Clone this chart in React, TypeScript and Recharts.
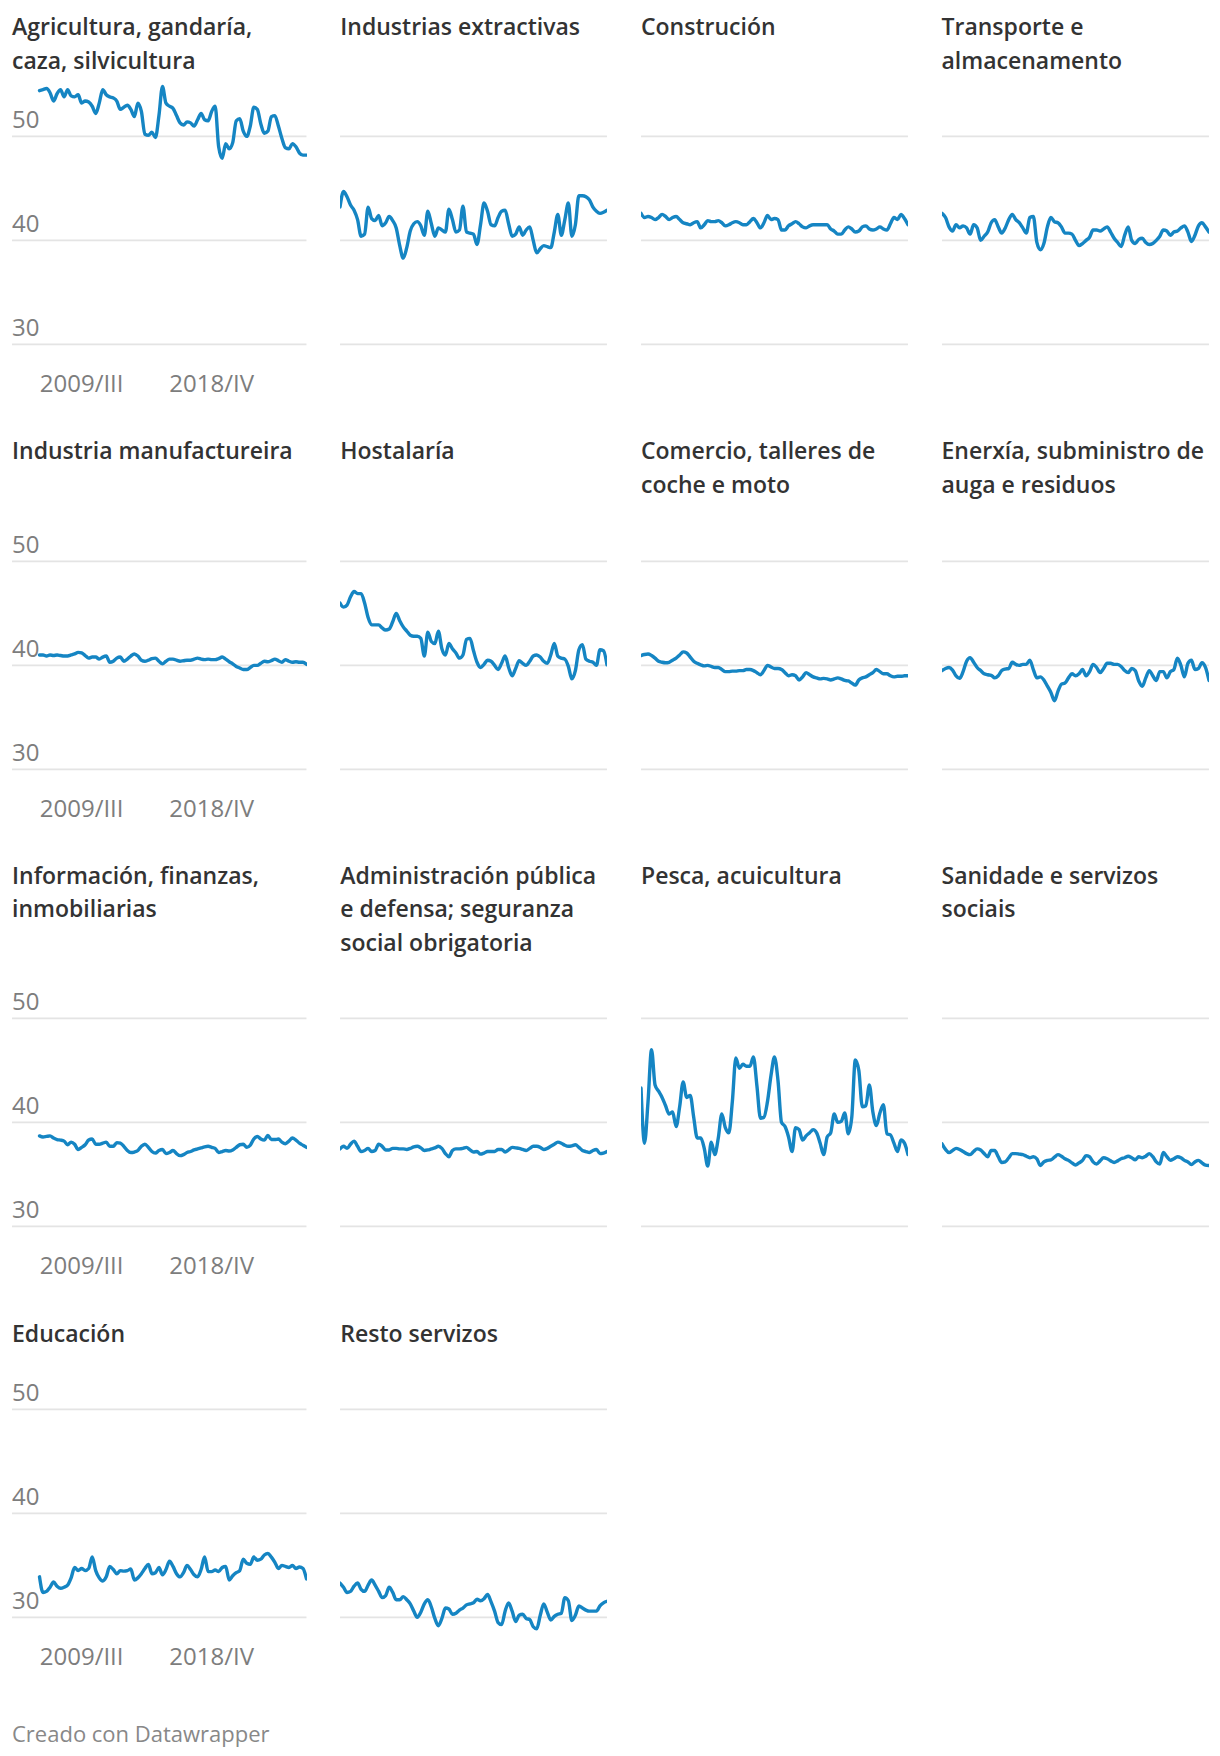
import React from "react";
import { LineChart, Line, XAxis, YAxis, ReferenceLine } from "recharts";

// quarters 2006/III .. 2025/III
const ROMAN = ["I", "II", "III", "IV"];
const quarters: string[] = [];
for (let y = 2006; y <= 2025; y++) {
  for (let q = 0; q < 4; q++) {
    if ((y === 2006 && q < 2) || (y === 2025 && q > 2)) continue;
    quarters.push(`${y}/${ROMAN[q]}`);
  }
}

const X_TICKS = ["2009/III", "2018/IV"];
const Y_TICKS = [30, 40, 50];

const agricultura = [
  54.4, 54.5, 54.6, 54.2, 53.4, 54.1, 54.5, 53.8, 54.5, 53.9,
  53.8, 54.0, 53.2, 53.4, 53.3, 52.9, 52.2, 53.2, 54.5, 54.0,
  53.8, 53.7, 53.4, 52.6, 52.8, 53.0, 52.6, 51.9, 53.2, 52.4,
  50.2, 50.1, 50.4, 49.9, 52.0, 54.8, 53.2, 52.9, 52.7, 52.0,
  51.3, 51.1, 51.4, 51.3, 51.0, 51.6, 52.2, 51.6, 51.5, 52.4,
  52.9, 49.0, 47.9, 49.3, 48.8, 49.4, 51.5, 51.7, 50.5, 50.0,
  51.0, 52.8, 52.6, 51.2, 50.3, 50.5, 51.9, 52.0, 51.0, 49.8,
  48.9, 48.8, 49.3, 49.0, 48.4, 48.2, 48.2,
];
const extractivas = [
  43.2, 44.7, 44.2, 43.4, 42.9, 42.0, 40.4, 40.6, 43.2, 42.1,
  41.9, 42.4, 41.4, 41.7, 42.3, 41.9, 41.2, 39.5, 38.3, 39.3,
  40.9, 41.6, 41.8, 41.4, 40.5, 42.8, 41.6, 40.4, 41.2, 41.0,
  40.8, 43.0, 42.0, 40.8, 41.0, 43.3, 40.8, 40.7, 40.6, 39.6,
  41.5, 43.6, 42.8, 41.5, 41.4, 42.2, 42.8, 42.9, 41.6, 40.4,
  40.6, 41.3, 40.5, 41.0, 41.3, 40.0, 38.8, 39.2, 39.5, 39.4,
  39.3, 40.8, 42.5, 40.5, 42.0, 43.6, 40.4, 41.5, 44.3, 44.3,
  44.2, 43.9, 43.2, 42.8, 42.6, 42.7, 42.9,
];
const construcion = [
  42.6, 42.2, 42.3, 42.2, 42.0, 42.2, 42.5, 42.3, 42.0, 42.2,
  42.3, 42.0, 41.7, 41.6, 41.5, 41.7, 41.8, 41.2, 41.5, 41.9,
  41.8, 41.8, 41.9, 41.7, 41.4, 41.5, 41.7, 41.8, 41.7, 41.5,
  41.5, 41.8, 42.1, 41.7, 41.2, 41.7, 42.4, 42.0, 42.1, 42.0,
  41.0, 41.0, 41.4, 41.6, 41.8, 41.6, 41.3, 41.2, 41.4, 41.5,
  41.5, 41.5, 41.5, 41.5, 41.1, 40.9, 40.6, 40.6, 41.0, 41.3,
  41.1, 40.8, 40.9, 41.3, 41.4, 41.1, 41.0, 41.1, 41.3, 41.1,
  41.0, 41.6, 42.2, 42.0, 42.5, 42.1, 41.5,
];
const transporte = [
  42.6, 42.2, 41.3, 40.9, 41.5, 41.2, 41.4, 41.2, 40.6, 41.5,
  41.2, 40.0, 40.4, 40.8, 41.7, 42.0, 41.3, 40.7, 41.2, 42.0,
  42.5, 42.0, 41.7, 41.2, 40.7, 42.2, 42.3, 39.8, 39.1, 39.7,
  41.3, 42.2, 41.8, 41.7, 41.3, 40.7, 40.7, 40.6, 40.0, 39.5,
  39.7, 40.0, 40.3, 41.0, 41.0, 40.9, 41.1, 41.3, 40.8, 40.2,
  39.8, 39.4, 40.5, 41.3, 40.0, 39.7, 40.1, 40.2, 39.8, 39.6,
  39.7, 40.0, 40.4, 41.0, 40.9, 40.5, 40.8, 40.9, 41.2, 41.4,
  40.8, 39.9, 40.5, 41.4, 41.7, 41.3, 40.8,
];
const manufactureira = [
  41.0, 41.0, 40.9, 41.0, 40.95, 41.0, 40.95, 40.9, 40.9, 41.0,
  41.1, 41.25, 41.2, 40.95, 40.7, 40.8, 40.8, 40.6, 40.8, 40.9,
  40.3, 40.4, 40.7, 40.8, 40.4, 40.6, 40.9, 41.1, 40.9, 40.5,
  40.4, 40.5, 40.65, 40.7, 40.4, 40.15, 40.4, 40.6, 40.6, 40.5,
  40.4, 40.45, 40.5, 40.5, 40.6, 40.7, 40.6, 40.55, 40.6, 40.55,
  40.55, 40.65, 40.8, 40.6, 40.35, 40.15, 39.9, 39.75, 39.6, 39.6,
  39.8, 40.0, 40.0, 40.2, 40.4, 40.35, 40.45, 40.6, 40.45, 40.3,
  40.55, 40.4, 40.3, 40.35, 40.3, 40.3, 40.1,
];
const hostalaria = [
  46.0, 45.6, 45.8, 46.6, 47.1, 46.9, 46.9, 46.0, 44.6, 43.9,
  43.9, 43.9, 43.6, 43.4, 43.5, 44.2, 45.0, 44.3, 43.7, 43.3,
  42.9, 42.8, 42.8, 42.6, 40.9, 43.2, 42.3, 42.1, 43.3, 41.6,
  41.0, 42.1, 41.6, 41.2, 40.7, 41.0, 42.5, 42.6, 41.4, 40.3,
  39.8, 40.1, 40.5, 40.4, 40.0, 39.6, 40.2, 40.9, 39.8, 39.0,
  39.7, 40.45, 40.2, 40.0, 40.4, 40.9, 41.0, 40.8, 40.4, 40.2,
  41.0, 42.1, 40.9, 40.7, 40.6, 39.9, 38.7, 39.5, 41.5, 42.0,
  40.6, 40.4, 40.3, 40.0, 41.5, 41.4, 40.05,
];
const comercio = [
  40.95, 41.05, 41.1, 40.95, 40.7, 40.4, 40.3, 40.25, 40.3, 40.5,
  40.7, 41.0, 41.3, 41.2, 40.8, 40.4, 40.2, 40.05, 39.95, 40.0,
  39.9, 39.8, 39.8, 39.6, 39.4, 39.4, 39.45, 39.45, 39.5, 39.5,
  39.6, 39.6, 39.5, 39.3, 39.1, 39.5, 40.0, 39.85, 39.7, 39.7,
  39.6, 39.3, 39.0, 39.1, 39.0, 38.6, 38.9, 39.3, 39.1, 38.9,
  38.8, 38.7, 38.75, 38.7, 38.6, 38.7, 38.8, 38.7, 38.55, 38.5,
  38.3, 38.1, 38.6, 38.8, 38.9, 39.1, 39.3, 39.6, 39.4, 39.2,
  39.2, 39.0, 38.9, 38.95, 38.95, 39.0, 39.0,
];
const enerxia = [
  39.5, 39.7, 39.8, 39.55, 39.0, 38.75, 39.4, 40.4, 40.75, 40.3,
  39.8, 39.5, 39.2, 39.1, 39.05, 38.8, 39.0, 39.5, 39.65, 39.7,
  40.3, 40.1, 40.0, 40.1, 40.1, 40.5, 39.6, 38.8, 38.9, 38.6,
  38.0, 37.4, 36.6, 37.5, 38.2, 38.3, 38.8, 39.2, 39.0, 39.2,
  39.6, 39.0, 39.4, 40.1, 39.8, 39.3, 39.7, 40.2, 40.2, 40.1,
  40.1, 39.9, 39.5, 39.3, 39.7, 39.5, 38.5, 38.0, 38.8, 39.5,
  39.0, 38.55, 39.4, 39.4, 38.8, 39.4, 39.6, 40.7, 40.0, 38.9,
  40.2, 40.5, 39.6, 39.7, 40.25, 39.8, 38.55,
];
const informacion = [
  38.7, 38.6, 38.65, 38.7, 38.5, 38.35, 38.3, 38.2, 37.85, 38.1,
  37.9, 37.4, 37.6, 37.85, 38.3, 38.4, 37.9, 37.9, 38.0, 38.1,
  37.7, 37.7, 38.05, 38.0, 37.7, 37.3, 37.1, 37.15, 37.3, 37.7,
  37.9, 37.6, 37.2, 37.05, 37.3, 37.4, 37.0, 37.1, 37.3, 37.0,
  36.8, 36.9, 37.1, 37.2, 37.35, 37.45, 37.55, 37.65, 37.7, 37.6,
  37.5, 37.1, 37.2, 37.3, 37.25, 37.35, 37.6, 37.85, 37.9, 37.6,
  37.8, 38.4, 38.65, 38.4, 38.3, 38.75, 38.35, 38.35, 38.4, 38.1,
  37.95, 38.2, 38.5, 38.3, 38.0, 37.8, 37.6,
];
const administracion = [
  37.45, 37.7, 37.5, 37.9, 38.2, 37.7, 37.2, 37.3, 37.5, 37.2,
  37.3, 37.9, 37.7, 37.35, 37.35, 37.5, 37.5, 37.45, 37.45, 37.4,
  37.5, 37.65, 37.7, 37.55, 37.3, 37.35, 37.45, 37.55, 37.7, 37.5,
  37.0, 36.7, 37.3, 37.45, 37.45, 37.5, 37.6, 37.35, 37.15, 37.2,
  36.95, 37.05, 37.2, 37.2, 37.2, 37.4, 37.4, 37.15, 37.35, 37.6,
  37.55, 37.5, 37.4, 37.3, 37.5, 37.7, 37.7, 37.6, 37.4, 37.5,
  37.7, 37.9, 38.1, 38.0, 37.8, 37.7, 37.75, 37.85, 37.6, 37.3,
  37.2, 37.1, 37.3, 37.4, 37.0, 37.05, 37.2,
];
const pesca = [
  43.3, 38.0, 42.0, 47.0, 43.6, 43.0, 42.4, 41.6, 40.8, 41.0,
  39.6, 41.5, 43.9, 42.4, 42.6, 40.5, 38.5, 38.5, 37.5, 35.8,
  38.1, 36.9, 38.5, 40.8, 39.5, 39.0, 42.0, 46.2, 45.2, 45.6,
  45.4, 45.4, 46.3, 43.5, 40.4, 40.5, 42.0, 44.5, 46.3, 44.0,
  40.0, 39.6, 38.6, 37.2, 39.5, 39.3, 38.3, 38.7, 39.0, 39.3,
  39.0, 38.0, 36.9, 38.6, 39.0, 40.8, 40.0, 40.1, 40.9, 38.9,
  40.5, 46.0, 45.0, 41.5, 41.6, 43.6, 41.0, 39.7, 40.9, 41.7,
  38.9, 38.8, 38.0, 37.2, 38.3, 38.0, 36.9,
];
const sanidade = [
  37.95, 37.4, 37.1, 37.3, 37.5, 37.4, 37.2, 37.0, 36.9, 37.2,
  37.45, 37.35, 37.0, 36.7, 37.3, 37.3, 36.7, 36.15, 36.2, 36.6,
  37.0, 37.0, 36.95, 36.9, 36.75, 36.6, 36.7, 36.5, 35.85, 36.2,
  36.35, 36.4, 36.65, 36.9, 36.75, 36.5, 36.35, 36.1, 35.9, 36.1,
  36.35, 36.8, 36.7, 36.2, 36.0, 36.3, 36.6, 36.5, 36.3, 36.15,
  36.3, 36.5, 36.6, 36.75, 36.6, 36.4, 36.7, 36.6, 36.75, 37.0,
  36.7, 36.2, 36.0, 37.1, 36.7, 36.35, 36.5, 36.7, 36.6, 36.35,
  36.2, 35.95, 36.2, 36.35, 36.1, 35.9, 35.85,
];
const educacion = [
  33.9, 32.4, 32.5, 32.9, 33.4, 33.0, 32.8, 32.9, 33.1, 33.8,
  34.8, 34.5, 34.7, 34.5, 34.7, 35.8, 34.5, 33.8, 33.5, 33.9,
  34.9, 34.6, 34.2, 34.5, 34.45, 34.5, 34.65, 33.6, 33.8, 34.2,
  34.7, 35.1, 34.2, 34.3, 34.8, 34.1, 34.6, 35.4, 34.9, 34.2,
  33.9, 34.3, 35.0, 34.6, 34.1, 33.9, 34.6, 35.8, 34.4, 34.4,
  34.55, 34.4, 34.8, 34.9, 33.6, 34.0, 34.3, 34.5, 35.6, 35.2,
  35.1, 35.8, 35.5, 35.6, 36.0, 36.15, 35.8, 35.3, 34.7, 35.0,
  34.9, 34.8, 35.0, 34.7, 34.85, 34.7, 33.7,
];
const resto = [
  33.3, 32.9, 32.4, 32.5, 33.0, 33.3, 32.7, 32.5, 33.1, 33.6,
  33.1, 32.5, 31.9, 32.1, 32.9, 32.4, 31.7, 31.7, 32.0, 31.7,
  31.3, 30.6, 30.0, 30.5, 31.3, 31.7, 31.0, 29.9, 29.2, 29.9,
  30.9, 30.8, 30.3, 30.4, 30.7, 30.9, 31.2, 31.3, 31.4, 31.75,
  31.6, 31.8, 32.2, 31.5, 30.6, 29.5, 29.3, 30.6, 31.4, 30.6,
  29.6, 30.2, 30.3, 29.9, 29.8, 29.1, 28.9, 30.2, 31.3, 30.5,
  29.75, 30.1, 30.3, 30.4, 31.9, 31.6, 29.7, 30.2, 31.1, 30.9,
  30.7, 30.6, 30.6, 30.6, 31.1, 31.4, 31.55,
];

// rows of panels: title lines + series
const panels: { title: string[]; values: number[] }[][] = [
  [
    { title: ["Agricultura, gandaría,", "caza, silvicultura"], values: agricultura },
    { title: ["Industrias extractivas"], values: extractivas },
    { title: ["Construción"], values: construcion },
    { title: ["Transporte e", "almacenamento"], values: transporte },
  ],
  [
    { title: ["Industria manufactureira"], values: manufactureira },
    { title: ["Hostalaría"], values: hostalaria },
    { title: ["Comercio, talleres de", "coche e moto"], values: comercio },
    { title: ["Enerxía, subministro de", "auga e residuos"], values: enerxia },
  ],
  [
    { title: ["Información, finanzas,", "inmobiliarias"], values: informacion },
    { title: ["Administración pública", "e defensa; seguranza", "social obrigatoria"], values: administracion },
    { title: ["Pesca, acuicultura"], values: pesca },
    { title: ["Sanidade e servizos", "sociais"], values: sanidade },
  ],
  [
    { title: ["Educación"], values: educacion },
    { title: ["Resto servizos"], values: resto },
  ],
];

const FONT = "'Open Sans', 'Noto Sans', sans-serif";
const LINE_COLOR = "#1585c3";
const GRID_COLOR = "#e4e4e4";
const TICK_COLOR = "#7d7d7d";
const TITLE_COLOR = "#333333";

const Y_MIN = 28;
const Y_MAX = 56;
const UNIT = 10.4; // px per point
const TOP = 4;
const AXIS_H = 44;
const PLOT_H = (Y_MAX - Y_MIN) * UNIT;
const CHART_H = TOP + PLOT_H + AXIS_H;
const yOf = (v: number) => TOP + (Y_MAX - v) * UNIT;

const GRID_LEFT = [12, 340.3, 641, 941.5];
const DATA_W = 267;
const COL1_PAD = 27.5;
const TITLE_LH = 33.8;

function Panel({ values, first }: { values: number[]; first: boolean }) {
  const data = quarters.map((q, i) => ({ q, v: values[i] }));
  const width = first ? DATA_W + COL1_PAD : DATA_W;

  const xTick = (p: any) => (
    <text x={p.x} y={yOf(30) + 47.5} textAnchor="middle" fontSize={24} fill={TICK_COLOR} fontFamily={FONT}>
      {p.payload.value}
    </text>
  );
  // y labels sit on top of the gridline, left aligned
  const yLabel = (t: number) => () => (
    <text x={0} y={yOf(t) - 8.4} textAnchor="start" fontSize={24} fill={TICK_COLOR} fontFamily={FONT}>
      {t}
    </text>
  );

  return (
    <LineChart width={width} height={CHART_H} data={data} margin={{ top: TOP, right: 0, bottom: 0, left: 0 }}>
      {Y_TICKS.map((t) => (
        <ReferenceLine
          key={t}
          y={t}
          stroke={GRID_COLOR}
          strokeWidth={1.6}
          label={first ? yLabel(t) : undefined}
        />
      ))}
      <XAxis
        dataKey="q"
        height={AXIS_H}
        axisLine={false}
        tickLine={false}
        ticks={first ? X_TICKS : []}
        interval={0}
        tick={first ? xTick : false}
        padding={{ left: first ? COL1_PAD : 0, right: 0 }}
      />
      <YAxis type="number" domain={[Y_MIN, Y_MAX]} ticks={Y_TICKS} hide />
      <Line
        type="monotone"
        dataKey="v"
        stroke={LINE_COLOR}
        strokeWidth={3.4}
        dot={false}
        strokeLinejoin="round"
        strokeLinecap="round"
        isAnimationActive={false}
      />
    </LineChart>
  );
}

export default function App() {
  // first-line centre of each row's titles
  const titleY = [26.9, 451.3, 875.4, 1333.4];
  const rowLines = panels.map((row) => Math.max(...row.map((p) => p.title.length)));

  return (
    <div style={{ position: "absolute", left: 0, top: 0, width: 1220, height: 1756, background: "#fff", fontFamily: FONT }}>
      {panels.map((row, r) => {
        const grid50 = titleY[r] + 75.8 + (rowLines[r] - 1) * TITLE_LH;
        return row.map((p, c) => (
          <React.Fragment key={`${r}-${c}`}>
            <div
              style={{
                position: "absolute",
                left: GRID_LEFT[c],
                top: titleY[r] - TITLE_LH / 2,
                fontSize: 23,
                lineHeight: `${TITLE_LH}px`,
                fontWeight: 600,
                color: TITLE_COLOR,
                whiteSpace: "nowrap",
              }}
            >
              {p.title.map((t, i) => (
                <div key={i}>{t}</div>
              ))}
            </div>
            <div style={{ position: "absolute", left: GRID_LEFT[c], top: grid50 - yOf(50) }}>
              <Panel values={p.values} first={c === 0} />
            </div>
          </React.Fragment>
        ));
      })}
      <div style={{ position: "absolute", left: 12, top: 1733 - 15, fontSize: 22, lineHeight: "30px", color: "#888" }}>
        Creado con Datawrapper
      </div>
    </div>
  );
}
